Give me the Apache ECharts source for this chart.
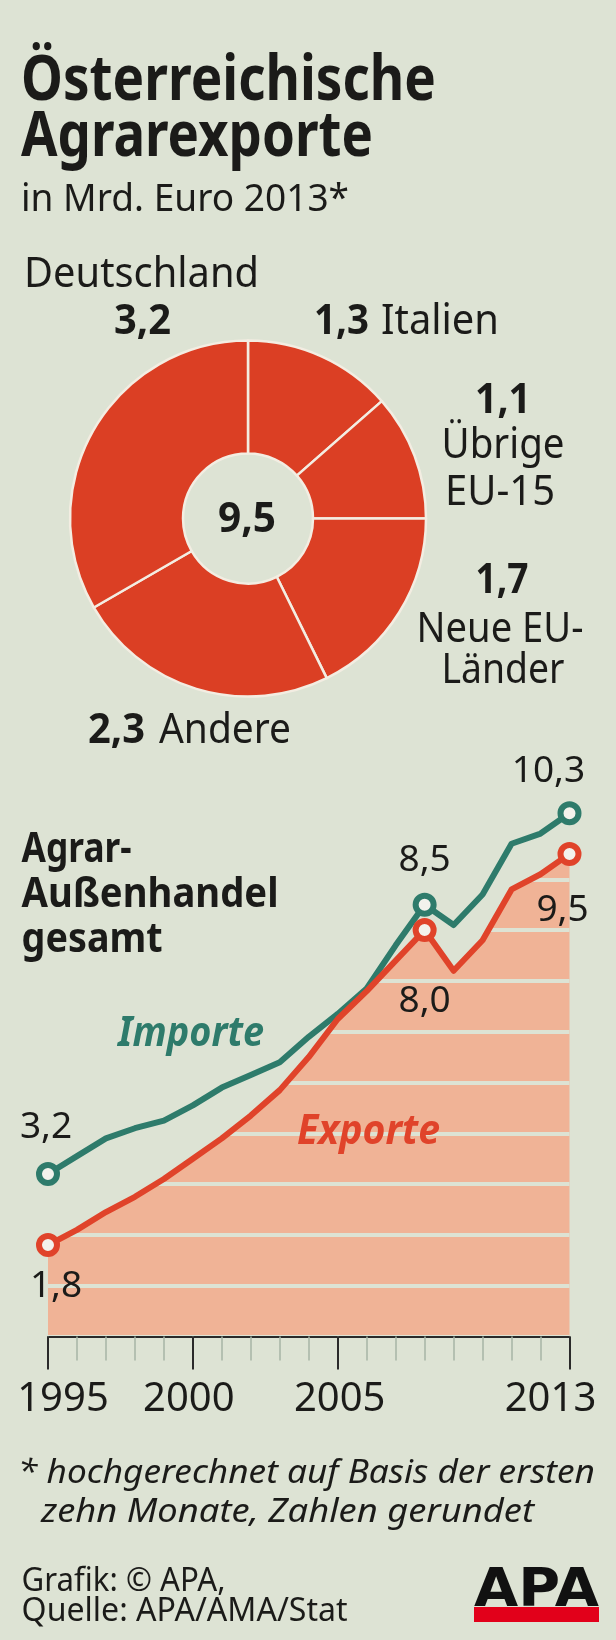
<!DOCTYPE html>
<html>
<head>
<meta charset="utf-8">
<script src="https://cdn.jsdelivr.net/npm/echarts@6/dist/echarts.min.js"></script>
<style>
html,body{margin:0;padding:0;background:#dde3d4;}
#c{width:616px;height:1640px;}
</style>
</head>
<body>
<div id="c"></div>
<script>
// ---------- DATA ----------
const years = ['1995','1996','1997','1998','1999','2000','2001','2002','2003','2004','2005','2006','2007','2008','2009','2010','2011','2012','2013'];
const tickYears = ['1995','2000','2005','2013'];
const importVals = [3.2, 3.55, 3.9, 4.1, 4.25, 4.55, 4.9, 5.15, 5.4, 5.9, 6.35, 6.85, 7.7, 8.5, 8.1, 8.7, 9.7, 9.9, 10.3];
const exportVals = [1.8, 2.1, 2.45, 2.75, 3.1, 3.5, 3.9, 4.35, 4.85, 5.5, 6.25, 6.8, 7.4, 8.0, 7.2, 7.8, 8.8, 9.1, 9.5];
const labelledYears = ['1995','2008','2013'];
const pieNames = ['Italien','Übrige EU-15','Neue EU-Länder','Andere','Deutschland'];
const pieValues = [1.3, 1.1, 1.7, 2.3, 3.2];

// ---------- STYLE ----------
const BG = '#dde3d4', INK = '#1b1b19', GREEN = '#2e7b6b', RED = '#e0432a', PIE = '#db3f24', AREA = '#f0b396';
const FONT = '"Noto Sans", "Open Sans", sans-serif';
const MID = 0.285; // distance from canvas "middle" baseline to alphabetic baseline (em)
const fmt = v => v.toFixed(1).replace('.', ',');

const mctx = document.createElement('canvas').getContext('2d');
function T(text, x, base, fs, o) {
  o = o || {};
  const weight = o.bold ? 'bold' : 'normal';
  const fstyle = o.italic ? 'italic' : 'normal';
  const fam = o.family || FONT;
  let sx = 1;
  if (o.w) {
    mctx.font = fstyle + ' ' + weight + ' ' + fs + 'px ' + fam;
    const m = mctx.measureText(text).width;
    sx = Math.max(0.7, Math.min(1.25, o.w / m));
  }
  return {
    type: 'text', x: x, y: base - MID * fs, scaleX: sx, z: 100, silent: true,
    style: {
      text: text, fill: o.color || INK, fontSize: fs, fontFamily: fam,
      fontWeight: weight, fontStyle: fstyle,
      align: o.align || 'left', verticalAlign: 'middle'
    }
  };
}

// label offsets (styling only) relative to marker centres
const impLabelOffset = {'1995': [-2, -46], '2008': [0, -44], '2013': [-21, -42]};
const expLabelOffset = {'1995': [8, 41], '2008': [0, 71], '2013': [-7, 57]};
// x-axis label horizontal shift
const tickShift = {'1995': 15, '2000': -4, '2005': 2, '2013': -19};

function lineData(vals, offs) {
  return vals.map((v, i) => {
    const yr = years[i];
    if (labelledYears.indexOf(yr) < 0) return { value: v, symbol: 'none' };
    return { value: v, symbol: 'circle', label: { show: true, offset: offs[yr] } };
  });
}

const idx = n => pieNames.indexOf(n);
const pv = n => fmt(pieValues[idx(n)]);

const graphics = [
  T('Österreichische', 21, 100, 62, {bold: true, w: 415}),
  T('Agrarexporte', 21, 156, 62, {bold: true, w: 352}),
  T('in Mrd. Euro 2013*', 21, 211, 38, {w: 328}),

  T('Deutschland', 24, 287, 41, {w: 235}),
  T(pv('Deutschland'), 142.5, 333.5, 41, {bold: true, w: 57, align: 'center'}),
  T(pv('Italien'), 314, 333.5, 41, {bold: true, w: 55}),
  T('Italien', 381, 333.5, 41, {w: 118}),
  T(pv('Übrige EU-15'), 503, 413, 41, {bold: true, w: 56, align: 'center'}),
  T('Übrige', 503, 458, 41, {w: 123, align: 'center'}),
  T('EU-15', 500, 505, 41, {w: 110, align: 'center'}),
  T(pv('Neue EU-Länder'), 502, 593, 41, {bold: true, w: 53, align: 'center'}),
  T('Neue EU-', 500, 641.7, 41, {w: 167, align: 'center'}),
  T('Länder', 503, 683.3, 41, {w: 123, align: 'center'}),
  T(pv('Andere'), 88, 743, 41, {bold: true, w: 57}),
  T('Andere', 159, 743, 41, {w: 132}),
  T(fmt(exportVals[exportVals.length - 1]), 247, 532, 41, {bold: true, w: 58, align: 'center'}),

  T('Agrar-', 21.6, 861.7, 41, {bold: true, w: 110}),
  T('Außenhandel', 21.6, 906.7, 41, {bold: true, w: 257}),
  T('gesamt', 21.6, 951.7, 41, {bold: true, w: 141}),
  T('Importe', 118, 1046, 41, {bold: true, italic: true, w: 146, color: GREEN}),
  T('Exporte', 297, 1144, 41, {bold: true, italic: true, w: 143, color: RED}),

  T('* hochgerechnet auf Basis der ersten', 18, 1483, 33, {italic: true, w: 577}),
  T('zehn Monate, Zahlen gerundet', 41, 1521.7, 33, {italic: true, w: 493}),
  T('Grafik: © APA,', 21.6, 1591, 32, {w: 204}),
  T('Quelle: APA/AMA/Stat', 21.6, 1621, 32, {w: 326}),
  { type: 'rect', z: 100, silent: true, shape: { x: 474, y: 1607, width: 125, height: 15 }, style: { fill: '#e2001a' } },
  T('APA', 474, 1607, 54, {bold: true, w: 125, family: '"DejaVu Sans", sans-serif', color: '#111'})
];

const rich = {};
years.forEach(y => {
  const s = tickShift[y] || 0;
  rich['y' + y] = {
    fontSize: 40, fontFamily: FONT, color: INK, lineHeight: 40,
    padding: s >= 0 ? [0, 0, 0, 2 * s] : [0, -2 * s, 0, 0]
  };
});
const isMajor = (i) => tickYears.indexOf(years[i]) >= 0;

const chart = echarts.init(document.getElementById('c'), null, { renderer: 'canvas', width: 616, height: 1640 });
chart.setOption({
  animation: false,
  backgroundColor: BG,
  grid: { left: 48, right: 46.5, top: 777.7, bottom: 303.5, containLabel: false, outerBoundsMode: 'none' },
  xAxis: [
    {
      type: 'category', data: years, boundaryGap: false, position: 'bottom', z: 5,
      axisLine: { show: true, lineStyle: { color: '#2a2a2a', width: 2 } },
      axisTick: { show: true, interval: 0, length: 24, lineStyle: { color: '#a6b5a5', width: 1.5 } },
      axisLabel: { show: false },
      splitLine: { show: false }
    },
    {
      type: 'category', data: years, boundaryGap: false, position: 'bottom', z: 6,
      axisLine: { show: false },
      axisTick: { show: true, interval: (i) => isMajor(i), length: 33, lineStyle: { color: '#2a2a2a', width: 2 } },
      axisLabel: {
        show: true, interval: (i) => isMajor(i), margin: 43,
        formatter: (v) => '{y' + v + '|' + v + '}', rich: rich
      },
      splitLine: { show: false }
    }
  ],
  yAxis: {
    type: 'value', min: 0, max: 11, interval: 1, z: 2,
    axisLine: { show: false }, axisTick: { show: false }, axisLabel: { show: false },
    splitLine: { show: true, lineStyle: { color: BG, width: 4 } }
  },
  series: [
    {
      type: 'pie', center: [248, 518.5], radius: [65, 178], startAngle: 90, clockwise: true,
      silent: true, label: { show: false }, labelLine: { show: false },
      itemStyle: { color: PIE, borderColor: '#f3ede2', borderWidth: 2.5 },
      emphasis: { disabled: true },
      data: pieNames.map((n, i) => ({ name: n, value: pieValues[i] }))
    },
    {
      name: 'area', type: 'line', data: exportVals, z: 1, silent: true,
      symbol: 'none', lineStyle: { opacity: 0, width: 0 },
      areaStyle: { color: AREA, opacity: 1 }
    },
    {
      name: 'Importe', type: 'line', z: 3, clip: false, silent: true,
      data: lineData(importVals, impLabelOffset),
      symbol: 'circle', symbolSize: 18, showSymbol: true, showAllSymbol: true,
      lineStyle: { color: GREEN, width: 6, join: 'round', cap: 'round' },
      itemStyle: { color: '#f3f2ec', borderColor: GREEN, borderWidth: 6 },
      label: { show: false, position: 'inside', formatter: p => fmt(p.value), fontSize: 37, fontFamily: FONT, color: INK, align: 'center', verticalAlign: 'middle' }
    },
    {
      name: 'Exporte', type: 'line', z: 4, clip: false, silent: true,
      data: lineData(exportVals, expLabelOffset),
      symbol: 'circle', symbolSize: 18, showSymbol: true, showAllSymbol: true,
      lineStyle: { color: RED, width: 6, join: 'round', cap: 'round' },
      itemStyle: { color: '#f3f2ec', borderColor: RED, borderWidth: 6 },
      label: { show: false, position: 'inside', formatter: p => fmt(p.value), fontSize: 37, fontFamily: FONT, color: INK, align: 'center', verticalAlign: 'middle' }
    }
  ],
  graphic: graphics
});
</script>
</body>
</html>
